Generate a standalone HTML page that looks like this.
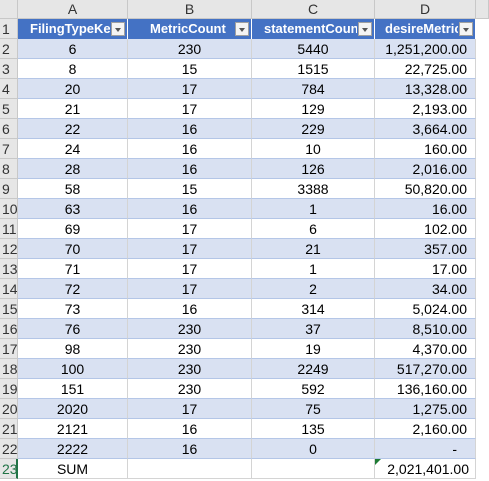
<!DOCTYPE html>
<html><head><meta charset="utf-8"><style>
body{margin:0;width:489px;height:481px;overflow:hidden;background:#fff;font-family:"Liberation Sans",Arial,sans-serif;font-size:14px;color:#000;position:relative}
.c{position:absolute;box-sizing:border-box;white-space:nowrap;overflow:hidden;line-height:20px;height:20px}
.hdr{background:#e6e6e6;color:#333;text-align:center;border-right:1px solid #c8c8c8;border-bottom:1px solid #c8c8c8;height:19px;line-height:19px}
.rh{background:#e6e6e6;color:#333;text-align:left;padding-left:2px;border-right:1px solid #c8c8c8;border-bottom:1px solid #c8c8c8;font-size:14px}
.cell{border-right:1px solid #d4d4d4;border-bottom:1px solid #d4d4d4;text-align:center}
.band{background:#d9e1f2;border-bottom:1px solid #b4c6e7}
.plain{border-bottom:1px solid #b4c6e7}
.th{background:#4472c4;color:#fff;font-weight:bold;text-align:left;border-right:1px solid #fff;font-size:13px}
.th span{position:absolute;top:0;overflow:hidden;white-space:nowrap}
.dd{position:absolute;top:3px;width:14px;height:14px;background:#f4f4f4;border:1px solid #a0a0a0;box-sizing:border-box}
.dd:after{content:"";position:absolute;left:3px;top:5px;border-left:3px solid transparent;border-right:3px solid transparent;border-top:4px solid #555}
.r{text-align:right;padding-right:8px}
</style></head><body>
<div id="grid"></div>
<script>
const keys=["6","8","20","21","22","24","28","58","63","69","70","71","72","73","76","98","100","151","2020","2121","2222"];
const metric=["230","15","17","17","16","16","16","15","16","17","17","17","17","16","230","230","230","230","17","16","16"];
const stmt=["5440","1515","784","129","229","10","126","3388","1","6","21","1","2","314","37","19","2249","592","75","135","0"];
const desire=["1,251,200.00","22,725.00","13,328.00","2,193.00","3,664.00","160.00","2,016.00","50,820.00","16.00","102.00","357.00","17.00","34.00","5,024.00","8,510.00","4,370.00","517,270.00","136,160.00","1,275.00","2,160.00","-"];
const colX=[0,18,128,252,375,476,489];
const letters=["A","B","C","D"];
const g=document.body;
function mk(cls,x,y,w,h,txt,name,inter){const d=document.createElement('div');d.className='c '+cls;d.style.left=x+'px';d.style.top=y+'px';d.style.width=w+'px';if(h)d.style.height=h+'px';d.textContent=txt;


g.appendChild(d);return d;}
mk('hdr',0,0,18,19,'','select-all-corner','true');
letters.forEach((l,i)=>{mk('hdr',colX[i+1],0,colX[i+2]-colX[i+1],19,l,'column-header-'+l.toLowerCase(),'true');});
mk('hdr',476,0,13,19,'','column-header-e','true');
const heads=["FilingTypeKey","MetricCount","statementCount","desireMetric"];
const rowY=r=>19+(r-1)*20;
for(let r=1;r<=23;r++){const rh=mk('rh',0,rowY(r),18,20,String(r),'row-header-'+r,'true');if(r==23){rh.style.color='#217346';rh.style.borderRight='2px solid #217346';}}
heads.forEach((h,i)=>{const x=colX[i+1],w=colX[i+2]-x;const d=mk('th',x,rowY(1),w,20,'','header-'+h.toLowerCase(),'false');
const pl=(i==0?12:i==1?22:i==2?12:10);
const sp=document.createElement('span');sp.textContent=h;sp.style.left=pl+'px';sp.style.width=(w-18-pl)+'px';


d.appendChild(sp);
const b=document.createElement('div');b.className='dd';b.style.left=(w-17)+'px';


d.appendChild(b);});
for(let i=0;i<keys.length;i++){const r=i+2,y=rowY(r),cls=(i%2==0?'band':'plain');
const vals=[keys[i],metric[i],stmt[i],desire[i]];
vals.forEach((v,j)=>{const x=colX[j+1],w=colX[j+2]-x;const d=mk('cell '+cls+(j==3?' r':''),x,y,w,20,v,'cell-'+letters[j].toLowerCase()+r,'true');if(j==3&&v=='-')d.style.paddingRight='18px';});}
const y23=rowY(23);
mk('cell',18,y23,110,20,'SUM','sum-label','true');
mk('cell',128,y23,124,20,'','cell-b23','true');
mk('cell',252,y23,123,20,'','cell-c23','true');
const s=mk('cell r',375,y23,101,20,'2,021,401.00','sum-total','true');s.style.paddingRight='6px';
const tri=document.createElement('div');tri.style.cssText='position:absolute;left:0;top:0;border-top:6px solid #1e7b34;border-right:6px solid transparent';


s.appendChild(tri);
</script>
</body></html>
